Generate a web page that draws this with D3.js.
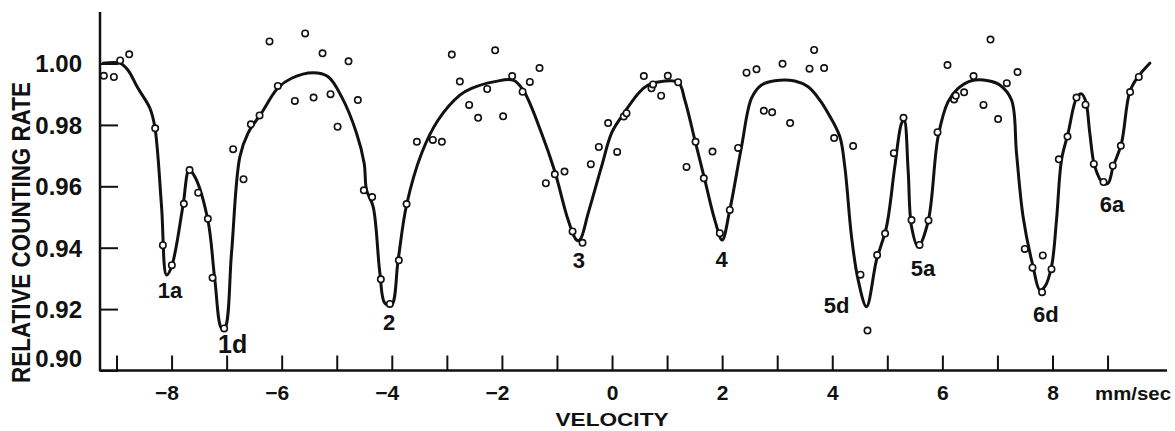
<!DOCTYPE html>
<html>
<head>
<meta charset="utf-8">
<script src="https://cdnjs.cloudflare.com/ajax/libs/d3/7.8.5/d3.min.js"></script>
<style>
  body { margin: 0; background: #fff; }
  text { font-family: "Liberation Sans", Arial, sans-serif; font-weight: bold; fill: #111; }
</style>
</head>
<body>
<div id="my_dataviz"></div>
<script>

// measured points (velocity mm/sec, relative counting rate)
var dotVelocity = [-9.230, -9.048, -8.934, -8.770, -8.298, -8.158, -7.995, -7.777, -7.673, -7.517,
  -7.341, -7.256, -7.045, -6.882, -6.693, -6.560, -6.402, -6.221, -6.070, -5.761,
  -5.574, -5.421, -5.258, -5.113, -4.985, -4.786, -4.617, -4.508, -4.357, -4.199,
  -4.036, -3.872, -3.732, -3.545, -3.255, -3.091, -2.910, -2.764, -2.595, -2.432,
  -2.268, -2.123, -1.978, -1.814, -1.625, -1.493, -1.317, -1.202, -1.039, -0.863,
  -0.717, -0.536, -0.385, -0.240, -0.071, 0.093, 0.214, 0.263, 0.578, 0.717,
  0.746, 0.892, 1.013, 1.201, 1.353, 1.517, 1.667, 1.825, 1.958, 2.139,
  2.290, 2.443, 2.624, 2.757, 2.908, 3.097, 3.235, 3.587, 3.671, 3.852,
  4.034, 4.379, 4.513, 4.640, 4.815, 4.960, 5.118, 5.294, 5.440, 5.585,
  5.748, 5.912, 6.093, 6.213, 6.244, 6.395, 6.566, 6.747, 6.874, 7.012,
  7.170, 7.365, 7.497, 7.637, 7.811, 7.824, 7.982, 8.115, 8.273, 8.436,
  8.600, 8.751, 8.927, 9.096, 9.241, 9.410, 9.568];
var dotRate = [0.9960, 0.9956, 1.0010, 1.0030, 0.9789, 0.9408, 0.9343, 0.9543, 0.9653, 0.9579,
  0.9494, 0.9302, 0.9137, 0.9721, 0.9623, 0.9802, 0.9831, 1.0072, 0.9927, 0.9878,
  1.0098, 0.9889, 1.0033, 0.9900, 0.9794, 1.0007, 0.9881, 0.9587, 0.9565, 0.9297,
  0.9217, 0.9359, 0.9542, 0.9745, 0.9751, 0.9745, 1.0029, 0.9941, 0.9865, 0.9823,
  0.9917, 1.0043, 0.9828, 0.9959, 0.9908, 0.9940, 0.9985, 0.9610, 0.9639, 0.9648,
  0.9453, 0.9416, 0.9672, 0.9728, 0.9806, 0.9712, 0.9827, 0.9838, 0.9959, 0.9919,
  0.9932, 0.9895, 0.9960, 0.9939, 0.9663, 0.9745, 0.9626, 0.9713, 0.9447, 0.9523,
  0.9725, 0.9970, 0.9981, 0.9846, 0.9841, 0.9999, 0.9806, 0.9983, 1.0044, 0.9985,
  0.9757, 0.9731, 0.9312, 0.9130, 0.9376, 0.9446, 0.9708, 0.9823, 0.9490, 0.9409,
  0.9489, 0.9776, 0.9995, 0.9883, 0.9895, 0.9906, 0.9959, 0.9865, 1.0078, 0.9819,
  0.9936, 0.9972, 0.9396, 0.9335, 0.9255, 0.9375, 0.9330, 0.9688, 0.9762, 0.9889,
  0.9866, 0.9673, 0.9614, 0.9667, 0.9732, 0.9907, 0.9956];

// hand drawn curve through the points
var fitVelocity = [-9.243, -8.939, -8.794, -8.612, -8.395, -8.304, -8.182, -8.091, -8.000, -7.795,
  -7.681, -7.577, -7.341, -7.214, -7.092, -7.032, -6.911, -6.760, -6.609, -6.366,
  -6.070, -5.821, -5.429, -5.156, -4.913, -4.640, -4.502, -4.459, -4.339, -4.217,
  -4.126, -4.005, -3.885, -3.732, -3.460, -3.158, -2.764, -2.552, -2.129, -1.796,
  -1.615, -1.280, -1.039, -0.797, -0.645, -0.585, -0.434, -0.191, -0.009, 0.173,
  0.505, 0.656, 0.808, 1.201, 1.322, 1.504, 1.685, 1.867, 2.000, 2.139,
  2.352, 2.534, 2.715, 2.957, 3.320, 3.562, 3.774, 3.925, 4.137, 4.228,
  4.350, 4.470, 4.622, 4.804, 4.985, 5.136, 5.258, 5.305, 5.378, 5.440,
  5.559, 5.741, 5.923, 6.104, 6.286, 6.529, 6.831, 7.043, 7.256, 7.347,
  7.466, 7.648, 7.770, 7.861, 7.982, 8.073, 8.164, 8.284, 8.436, 8.527,
  8.605, 8.678, 8.769, 8.920, 9.010, 9.101, 9.253, 9.404, 9.555, 9.768];
var fitRate = [1.0001, 1.0001, 0.9979, 0.9920, 0.9855, 0.9793, 0.9534, 0.9311, 0.9338, 0.9534,
  0.9653, 0.9631, 0.9490, 0.9295, 0.9137, 0.9138, 0.9383, 0.9696, 0.9774, 0.9839,
  0.9920, 0.9952, 0.9970, 0.9957, 0.9892, 0.9773, 0.9675, 0.9588, 0.9534, 0.9318,
  0.9219, 0.9213, 0.9360, 0.9539, 0.9707, 0.9816, 0.9897, 0.9919, 0.9941, 0.9946,
  0.9914, 0.9773, 0.9648, 0.9490, 0.9425, 0.9425, 0.9512, 0.9664, 0.9773, 0.9827,
  0.9908, 0.9930, 0.9939, 0.9939, 0.9881, 0.9751, 0.9621, 0.9490, 0.9425, 0.9523,
  0.9729, 0.9887, 0.9930, 0.9944, 0.9943, 0.9924, 0.9881, 0.9838, 0.9762, 0.9664,
  0.9436, 0.9295, 0.9208, 0.9360, 0.9468, 0.9664, 0.9805, 0.9816, 0.9653, 0.9468,
  0.9403, 0.9485, 0.9762, 0.9876, 0.9919, 0.9944, 0.9944, 0.9930, 0.9881, 0.9707,
  0.9501, 0.9338, 0.9262, 0.9273, 0.9338, 0.9490, 0.9686, 0.9773, 0.9887, 0.9901,
  0.9876, 0.9773, 0.9664, 0.9610, 0.9610, 0.9664, 0.9740, 0.9908, 0.9957, 1.0001];

// line names and where they sit (velocity, rate)
var peakNames = ["1a", "1d", "2", "3", "4", "5d", "5a", "6d", "6a"];
var peakVelocity = [-8.03, -6.89, -4.05, -0.60, 1.99, 4.08, 5.65, 7.88, 9.08];
var peakRate = [0.9236, 0.9057, 0.9132, 0.9334, 0.9337, 0.9187, 0.9308, 0.9158, 0.9516];

var xTicks = [-9, -8, -7, -6, -5, -4, -3, -2, -1, 0, 1, 2, 3, 4, 5, 6, 7, 8, 9];
var yTicks = [0.90, 0.92, 0.94, 0.96, 0.98, 1.00];

var width = 1175;
var height = 431;

var svg = d3.select("#my_dataviz")
  .append("svg")
    .attr("width", width)
    .attr("height", height);

var x = d3.scaleLinear().domain([-9.3, 10.08]).range([100, 1167]);
var y = d3.scaleLinear().domain([0.90, 1.00]).range([370.5, 63.5]);

// x axis, ticks pointing up
var xAxis = svg.append("g")
  .attr("transform", "translate(0," + y(0.90) + ")")
  .call(d3.axisBottom(x)
    .tickValues(xTicks)
    .tickSize(-15)
    .tickSizeOuter(0)
    .tickPadding(15)
    .tickFormat(function(d) {
      if (d % 2 != 0) return "";
      return d < 0 ? "\u2212" + Math.abs(d) : String(d);
    }));
xAxis.select(".domain").remove();
xAxis.selectAll("line").attr("stroke", "#111").attr("stroke-width", 2);
xAxis.selectAll("text")
  .style("font-size", "21px")
  .attr("fill", "#111")
  .attr("dx", function(d) { return d < 0 ? -5 : 0; });

// y axis, ticks pointing right
var yAxis = svg.append("g")
  .attr("transform", "translate(" + x(-9.3) + ",0)")
  .call(d3.axisLeft(y)
    .tickValues(yTicks)
    .tickSize(-18)
    .tickSizeOuter(0)
    .tickPadding(18)
    .tickFormat(d3.format(".2f")));
yAxis.select(".domain").remove();
yAxis.selectAll("line").attr("stroke", "#111").attr("stroke-width", 2);
yAxis.selectAll("text")
  .style("font-size", "24px")
  .attr("fill", "#111")
  .attr("dy", function(d) { return d == 0.90 ? "-0.15em" : "0.35em"; });

// axis lines
svg.append("line")
  .attr("x1", x(-9.3)).attr("x2", x(10.08))
  .attr("y1", y(0.90)).attr("y2", y(0.90))
  .attr("stroke", "#111").attr("stroke-width", 2.5);
svg.append("line")
  .attr("x1", x(-9.3)).attr("x2", x(-9.3))
  .attr("y1", y(0.90) + 1).attr("y2", y(1.0168))
  .attr("stroke", "#111").attr("stroke-width", 2.5);

// curve
var fit = fitVelocity.map(function(v, i) { return [v, fitRate[i]]; });
var line = d3.line()
  .x(function(d) { return x(d[0]); })
  .y(function(d) { return y(d[1]); })
  .curve(d3.curveCatmullRom.alpha(0.5));

svg.append("path")
  .datum(fit)
  .attr("d", line)
  .attr("fill", "none")
  .attr("stroke", "#111")
  .attr("stroke-width", 3)
  .attr("stroke-linejoin", "round")
  .attr("stroke-linecap", "round");

// open circles
var dots = dotVelocity.map(function(v, i) { return [v, dotRate[i]]; });
svg.selectAll("circle.dot")
  .data(dots)
  .enter()
  .append("circle")
    .attr("class", "dot")
    .attr("cx", function(d) { return x(d[0]); })
    .attr("cy", function(d) { return y(d[1]); })
    .attr("r", 3.2)
    .attr("fill", "#fff")
    .attr("stroke", "#111")
    .attr("stroke-width", 1.6);

// peak labels
svg.selectAll("text.peak")
  .data(peakNames)
  .enter()
  .append("text")
    .attr("class", "peak")
    .attr("x", function(d, i) { return x(peakVelocity[i]); })
    .attr("y", function(d, i) { return y(peakRate[i]); })
    .attr("text-anchor", "middle")
    .style("font-size", function(d) { return d == "1d" ? "25px" : "22px"; })
    .text(function(d) { return d; });

// axis titles
svg.append("text")
  .attr("transform", "translate(30," + 232.5 + ") rotate(-90)")
  .attr("text-anchor", "middle")
  .attr("textLength", 301)
  .attr("lengthAdjust", "spacingAndGlyphs")
  .style("font-size", "25px")
  .text("RELATIVE COUNTING RATE");

svg.append("text")
  .attr("x", x(0))
  .attr("y", 426)
  .attr("text-anchor", "middle")
  .attr("textLength", 113)
  .attr("lengthAdjust", "spacingAndGlyphs")
  .style("font-size", "19px")
  .text("VELOCITY");

svg.append("text")
  .attr("x", 1095)
  .attr("y", 400)
  .attr("textLength", 76)
  .attr("lengthAdjust", "spacingAndGlyphs")
  .style("font-size", "19px")
  .text("mm/sec");

</script>
</body>
</html>
